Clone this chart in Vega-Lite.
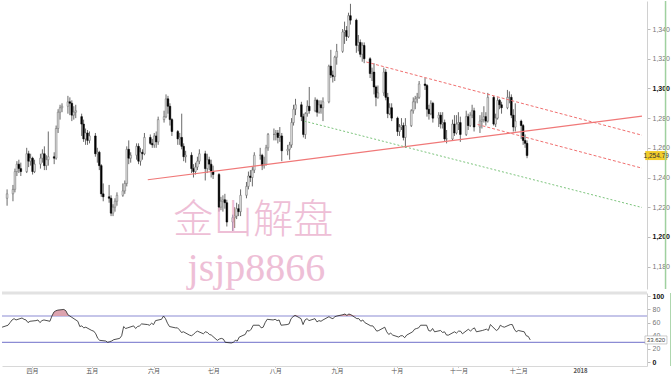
{
  "$schema": "https://vega.github.io/schema/vega-lite/v6.json",
  "padding": 0,
  "background": "white",
  "spacing": 4,
  "bounds": "flush",
  "config": {"view": {"stroke": null}, "font": "Liberation Sans", "axis": {"labelOverlap": false}},
  "datasets": {
    "k": [
      {"d":"2017-03-17","o":1226,"h":1232,"l":1221,"c":1229,"r":53},
      {"d":"2017-03-20","o":1229,"h":1235,"l":1224,"c":1232,"r":56},
      {"d":"2017-03-21","o":1232,"h":1246,"l":1230,"c":1244,"r":60},
      {"d":"2017-03-22","o":1244,"h":1251,"l":1241,"c":1249,"r":64},
      {"d":"2017-03-23","o":1249,"h":1252,"l":1243,"c":1246,"r":66},
      {"d":"2017-03-24","o":1246,"h":1250,"l":1241,"c":1244,"r":64},
      {"d":"2017-03-27","o":1244,"h":1260,"l":1243,"c":1256,"r":67},
      {"d":"2017-03-28","o":1256,"h":1258,"l":1247,"c":1251,"r":65},
      {"d":"2017-03-29","o":1251,"h":1256,"l":1248,"c":1253,"r":64},
      {"d":"2017-03-30","o":1253,"h":1254,"l":1242,"c":1244,"r":60},
      {"d":"2017-03-31","o":1244,"h":1252,"l":1243,"c":1249,"r":62},
      {"d":"2017-04-03","o":1249,"h":1256,"l":1246,"c":1253,"r":63},
      {"d":"2017-04-04","o":1253,"h":1259,"l":1250,"c":1256,"r":64},
      {"d":"2017-04-05","o":1256,"h":1261,"l":1245,"c":1248,"r":60},
      {"d":"2017-04-06","o":1248,"h":1255,"l":1245,"c":1252,"r":63},
      {"d":"2017-04-07","o":1252,"h":1271,"l":1248,"c":1254,"r":64},
      {"d":"2017-04-10","o":1254,"h":1257,"l":1249,"c":1253,"r":62},
      {"d":"2017-04-11","o":1253,"h":1275,"l":1252,"c":1273,"r":70},
      {"d":"2017-04-12","o":1273,"h":1286,"l":1270,"c":1284,"r":76},
      {"d":"2017-04-13","o":1284,"h":1289,"l":1279,"c":1287,"r":78},
      {"d":"2017-04-14","o":1287,"h":1290,"l":1284,"c":1288,"r":79},
      {"d":"2017-04-17","o":1288,"h":1295,"l":1283,"c":1291,"r":80},
      {"d":"2017-04-18","o":1291,"h":1294,"l":1282,"c":1290,"r":78},
      {"d":"2017-04-19","o":1290,"h":1292,"l":1278,"c":1282,"r":72},
      {"d":"2017-04-20","o":1282,"h":1288,"l":1279,"c":1284,"r":70},
      {"d":"2017-04-21","o":1284,"h":1289,"l":1280,"c":1285,"r":68},
      {"d":"2017-04-24","o":1281,"h":1283,"l":1268,"c":1276,"r":62},
      {"d":"2017-04-25","o":1276,"h":1279,"l":1264,"c":1266,"r":54},
      {"d":"2017-04-26","o":1266,"h":1273,"l":1262,"c":1270,"r":55},
      {"d":"2017-04-27","o":1270,"h":1272,"l":1262,"c":1265,"r":52},
      {"d":"2017-04-28","o":1265,"h":1271,"l":1263,"c":1268,"r":53},
      {"d":"2017-05-01","o":1268,"h":1270,"l":1254,"c":1256,"r":48},
      {"d":"2017-05-02","o":1256,"h":1260,"l":1250,"c":1257,"r":47},
      {"d":"2017-05-03","o":1257,"h":1258,"l":1245,"c":1248,"r":43},
      {"d":"2017-05-04","o":1248,"h":1249,"l":1227,"c":1229,"r":36},
      {"d":"2017-05-05","o":1229,"h":1236,"l":1224,"c":1227,"r":33},
      {"d":"2017-05-08","o":1227,"h":1235,"l":1223,"c":1226,"r":32},
      {"d":"2017-05-09","o":1226,"h":1228,"l":1214,"c":1216,"r":30},
      {"d":"2017-05-10","o":1216,"h":1222,"l":1214,"c":1220,"r":31},
      {"d":"2017-05-11","o":1220,"h":1226,"l":1217,"c":1224,"r":32},
      {"d":"2017-05-12","o":1224,"h":1230,"l":1221,"c":1228,"r":34},
      {"d":"2017-05-15","o":1228,"h":1236,"l":1227,"c":1231,"r":36},
      {"d":"2017-05-16","o":1231,"h":1238,"l":1229,"c":1236,"r":40},
      {"d":"2017-05-17","o":1236,"h":1261,"l":1234,"c":1259,"r":54},
      {"d":"2017-05-18","o":1259,"h":1265,"l":1249,"c":1253,"r":51},
      {"d":"2017-05-19","o":1253,"h":1257,"l":1250,"c":1255,"r":52},
      {"d":"2017-05-22","o":1255,"h":1263,"l":1252,"c":1261,"r":55},
      {"d":"2017-05-23","o":1261,"h":1263,"l":1249,"c":1251,"r":51},
      {"d":"2017-05-24","o":1251,"h":1260,"l":1248,"c":1257,"r":54},
      {"d":"2017-05-25","o":1257,"h":1259,"l":1252,"c":1256,"r":55},
      {"d":"2017-05-26","o":1256,"h":1270,"l":1255,"c":1267,"r":58},
      {"d":"2017-05-29","o":1267,"h":1269,"l":1262,"c":1263,"r":57},
      {"d":"2017-05-30","o":1263,"h":1266,"l":1260,"c":1262,"r":56},
      {"d":"2017-05-31","o":1262,"h":1270,"l":1260,"c":1268,"r":59},
      {"d":"2017-06-01","o":1268,"h":1271,"l":1260,"c":1264,"r":57},
      {"d":"2017-06-02","o":1264,"h":1281,"l":1262,"c":1279,"r":63},
      {"d":"2017-06-05","o":1279,"h":1285,"l":1277,"c":1281,"r":65},
      {"d":"2017-06-06","o":1281,"h":1296,"l":1280,"c":1293,"r":70},
      {"d":"2017-06-07","o":1293,"h":1295,"l":1283,"c":1288,"r":66},
      {"d":"2017-06-08","o":1288,"h":1290,"l":1275,"c":1279,"r":59},
      {"d":"2017-06-09","o":1279,"h":1280,"l":1268,"c":1271,"r":54},
      {"d":"2017-06-12","o":1271,"h":1272,"l":1262,"c":1266,"r":52},
      {"d":"2017-06-13","o":1266,"h":1270,"l":1262,"c":1267,"r":52},
      {"d":"2017-06-14","o":1267,"h":1283,"l":1259,"c":1261,"r":49},
      {"d":"2017-06-15","o":1261,"h":1263,"l":1251,"c":1254,"r":45},
      {"d":"2017-06-16","o":1254,"h":1258,"l":1250,"c":1255,"r":46},
      {"d":"2017-06-19","o":1255,"h":1257,"l":1243,"c":1246,"r":41},
      {"d":"2017-06-20","o":1246,"h":1249,"l":1240,"c":1244,"r":40},
      {"d":"2017-06-21","o":1244,"h":1250,"l":1242,"c":1247,"r":42},
      {"d":"2017-06-22","o":1247,"h":1254,"l":1245,"c":1251,"r":45},
      {"d":"2017-06-23","o":1251,"h":1259,"l":1249,"c":1256,"r":47},
      {"d":"2017-06-26","o":1256,"h":1258,"l":1238,"c":1246,"r":43},
      {"d":"2017-06-27","o":1246,"h":1256,"l":1243,"c":1252,"r":46},
      {"d":"2017-06-28","o":1252,"h":1254,"l":1245,"c":1249,"r":45},
      {"d":"2017-06-29","o":1249,"h":1252,"l":1240,"c":1244,"r":42},
      {"d":"2017-06-30","o":1244,"h":1248,"l":1239,"c":1242,"r":41},
      {"d":"2017-07-03","o":1242,"h":1243,"l":1217,"c":1220,"r":33},
      {"d":"2017-07-04","o":1220,"h":1227,"l":1218,"c":1224,"r":35},
      {"d":"2017-07-05","o":1224,"h":1228,"l":1217,"c":1225,"r":36},
      {"d":"2017-07-06","o":1225,"h":1229,"l":1219,"c":1223,"r":35},
      {"d":"2017-07-07","o":1223,"h":1225,"l":1207,"c":1210,"r":30},
      {"d":"2017-07-10","o":1210,"h":1215,"l":1204,"c":1213,"r":29},
      {"d":"2017-07-11","o":1213,"h":1220,"l":1206,"c":1214,"r":30},
      {"d":"2017-07-12","o":1214,"h":1223,"l":1212,"c":1219,"r":33},
      {"d":"2017-07-13","o":1219,"h":1222,"l":1214,"c":1217,"r":32},
      {"d":"2017-07-14","o":1217,"h":1232,"l":1214,"c":1228,"r":38},
      {"d":"2017-07-17","o":1228,"h":1237,"l":1226,"c":1234,"r":42},
      {"d":"2017-07-18","o":1234,"h":1244,"l":1232,"c":1241,"r":48},
      {"d":"2017-07-19","o":1241,"h":1245,"l":1237,"c":1240,"r":47},
      {"d":"2017-07-20","o":1240,"h":1247,"l":1234,"c":1245,"r":50},
      {"d":"2017-07-21","o":1245,"h":1257,"l":1243,"c":1255,"r":56},
      {"d":"2017-07-24","o":1255,"h":1260,"l":1252,"c":1255,"r":56},
      {"d":"2017-07-25","o":1255,"h":1256,"l":1245,"c":1248,"r":52},
      {"d":"2017-07-26","o":1248,"h":1254,"l":1246,"c":1249,"r":53},
      {"d":"2017-07-27","o":1249,"h":1262,"l":1248,"c":1260,"r":60},
      {"d":"2017-07-28","o":1260,"h":1270,"l":1258,"c":1269,"r":65},
      {"d":"2017-07-31","o":1269,"h":1273,"l":1265,"c":1269,"r":64},
      {"d":"2017-08-01","o":1269,"h":1272,"l":1265,"c":1270,"r":65},
      {"d":"2017-08-02","o":1270,"h":1272,"l":1263,"c":1267,"r":63},
      {"d":"2017-08-03","o":1267,"h":1274,"l":1264,"c":1268,"r":64},
      {"d":"2017-08-04","o":1268,"h":1270,"l":1251,"c":1258,"r":56},
      {"d":"2017-08-07","o":1258,"h":1262,"l":1255,"c":1259,"r":57},
      {"d":"2017-08-08","o":1259,"h":1264,"l":1252,"c":1262,"r":58},
      {"d":"2017-08-09","o":1262,"h":1280,"l":1260,"c":1277,"r":66},
      {"d":"2017-08-10","o":1277,"h":1289,"l":1275,"c":1286,"r":69},
      {"d":"2017-08-11","o":1286,"h":1293,"l":1282,"c":1289,"r":71},
      {"d":"2017-08-14","o":1289,"h":1291,"l":1278,"c":1281,"r":66},
      {"d":"2017-08-15","o":1281,"h":1283,"l":1267,"c":1269,"r":57},
      {"d":"2017-08-16","o":1269,"h":1284,"l":1266,"c":1283,"r":64},
      {"d":"2017-08-17","o":1283,"h":1292,"l":1281,"c":1288,"r":66},
      {"d":"2017-08-18","o":1288,"h":1301,"l":1283,"c":1285,"r":63},
      {"d":"2017-08-21","o":1285,"h":1294,"l":1284,"c":1292,"r":66},
      {"d":"2017-08-22","o":1292,"h":1293,"l":1281,"c":1284,"r":61},
      {"d":"2017-08-23","o":1284,"h":1292,"l":1283,"c":1289,"r":63},
      {"d":"2017-08-24","o":1289,"h":1292,"l":1283,"c":1287,"r":62},
      {"d":"2017-08-25","o":1287,"h":1294,"l":1278,"c":1291,"r":64},
      {"d":"2017-08-28","o":1291,"h":1316,"l":1290,"c":1315,"r":69},
      {"d":"2017-08-29","o":1315,"h":1326,"l":1307,"c":1309,"r":67},
      {"d":"2017-08-30","o":1309,"h":1312,"l":1304,"c":1308,"r":66},
      {"d":"2017-08-31","o":1308,"h":1322,"l":1305,"c":1321,"r":69},
      {"d":"2017-09-01","o":1321,"h":1330,"l":1316,"c":1325,"r":70},
      {"d":"2017-09-04","o":1325,"h":1340,"l":1324,"c":1338,"r":72},
      {"d":"2017-09-05","o":1338,"h":1345,"l":1330,"c":1339,"r":73},
      {"d":"2017-09-06","o":1339,"h":1342,"l":1332,"c":1335,"r":71},
      {"d":"2017-09-07","o":1335,"h":1351,"l":1334,"c":1349,"r":73},
      {"d":"2017-09-08","o":1349,"h":1357,"l":1343,"c":1346,"r":72},
      {"d":"2017-09-11","o":1346,"h":1347,"l":1324,"c":1329,"r":66},
      {"d":"2017-09-12","o":1329,"h":1336,"l":1325,"c":1331,"r":66},
      {"d":"2017-09-13","o":1331,"h":1333,"l":1321,"c":1323,"r":62},
      {"d":"2017-09-14","o":1323,"h":1331,"l":1318,"c":1329,"r":64},
      {"d":"2017-09-15","o":1329,"h":1331,"l":1317,"c":1320,"r":60},
      {"d":"2017-09-18","o":1320,"h":1321,"l":1307,"c":1310,"r":55},
      {"d":"2017-09-19","o":1310,"h":1314,"l":1305,"c":1311,"r":55},
      {"d":"2017-09-20","o":1311,"h":1317,"l":1296,"c":1301,"r":51},
      {"d":"2017-09-21","o":1301,"h":1302,"l":1288,"c":1294,"r":47},
      {"d":"2017-09-22","o":1294,"h":1302,"l":1293,"c":1297,"r":48},
      {"d":"2017-09-25","o":1297,"h":1314,"l":1295,"c":1311,"r":53},
      {"d":"2017-09-26","o":1311,"h":1313,"l":1292,"c":1294,"r":46},
      {"d":"2017-09-27","o":1294,"h":1297,"l":1280,"c":1283,"r":42},
      {"d":"2017-09-28","o":1283,"h":1290,"l":1282,"c":1287,"r":44},
      {"d":"2017-09-29","o":1287,"h":1290,"l":1278,"c":1280,"r":41},
      {"d":"2017-10-02","o":1280,"h":1281,"l":1268,"c":1271,"r":38},
      {"d":"2017-10-03","o":1271,"h":1276,"l":1268,"c":1274,"r":40},
      {"d":"2017-10-04","o":1274,"h":1280,"l":1272,"c":1275,"r":40},
      {"d":"2017-10-05","o":1275,"h":1277,"l":1265,"c":1267,"r":37},
      {"d":"2017-10-06","o":1267,"h":1280,"l":1260,"c":1275,"r":41},
      {"d":"2017-10-09","o":1275,"h":1286,"l":1274,"c":1285,"r":46},
      {"d":"2017-10-10","o":1285,"h":1294,"l":1283,"c":1291,"r":50},
      {"d":"2017-10-11","o":1291,"h":1295,"l":1286,"c":1293,"r":51},
      {"d":"2017-10-12","o":1293,"h":1297,"l":1290,"c":1294,"r":52},
      {"d":"2017-10-13","o":1294,"h":1305,"l":1293,"c":1303,"r":56},
      {"d":"2017-10-16","o":1303,"h":1307,"l":1299,"c":1302,"r":56},
      {"d":"2017-10-17","o":1302,"h":1303,"l":1281,"c":1286,"r":48},
      {"d":"2017-10-18","o":1286,"h":1289,"l":1279,"c":1283,"r":47},
      {"d":"2017-10-19","o":1283,"h":1292,"l":1282,"c":1290,"r":51},
      {"d":"2017-10-20","o":1290,"h":1291,"l":1277,"c":1280,"r":46},
      {"d":"2017-10-23","o":1280,"h":1284,"l":1274,"c":1282,"r":48},
      {"d":"2017-10-24","o":1282,"h":1284,"l":1273,"c":1276,"r":45},
      {"d":"2017-10-25","o":1276,"h":1284,"l":1273,"c":1277,"r":46},
      {"d":"2017-10-26","o":1277,"h":1279,"l":1264,"c":1266,"r":41},
      {"d":"2017-10-27","o":1266,"h":1272,"l":1263,"c":1266,"r":41},
      {"d":"2017-10-30","o":1266,"h":1279,"l":1265,"c":1276,"r":46},
      {"d":"2017-10-31","o":1276,"h":1282,"l":1268,"c":1270,"r":44},
      {"d":"2017-11-01","o":1270,"h":1282,"l":1269,"c":1276,"r":47},
      {"d":"2017-11-02","o":1276,"h":1284,"l":1272,"c":1277,"r":47},
      {"d":"2017-11-03","o":1277,"h":1281,"l":1264,"c":1269,"r":43},
      {"d":"2017-11-06","o":1269,"h":1285,"l":1268,"c":1281,"r":50},
      {"d":"2017-11-07","o":1281,"h":1283,"l":1272,"c":1275,"r":47},
      {"d":"2017-11-08","o":1275,"h":1284,"l":1274,"c":1282,"r":50},
      {"d":"2017-11-09","o":1282,"h":1289,"l":1280,"c":1285,"r":52},
      {"d":"2017-11-10","o":1285,"h":1287,"l":1271,"c":1274,"r":46},
      {"d":"2017-11-13","o":1274,"h":1282,"l":1270,"c":1278,"r":48},
      {"d":"2017-11-14","o":1278,"h":1284,"l":1273,"c":1279,"r":49},
      {"d":"2017-11-15","o":1279,"h":1288,"l":1277,"c":1281,"r":50},
      {"d":"2017-11-16","o":1281,"h":1284,"l":1275,"c":1278,"r":48},
      {"d":"2017-11-17","o":1278,"h":1297,"l":1277,"c":1294,"r":57},
      {"d":"2017-11-20","o":1294,"h":1295,"l":1275,"c":1276,"r":48},
      {"d":"2017-11-21","o":1276,"h":1283,"l":1274,"c":1280,"r":50},
      {"d":"2017-11-22","o":1280,"h":1294,"l":1279,"c":1292,"r":56},
      {"d":"2017-11-23","o":1292,"h":1293,"l":1286,"c":1289,"r":54},
      {"d":"2017-11-24","o":1289,"h":1291,"l":1283,"c":1287,"r":53},
      {"d":"2017-11-27","o":1287,"h":1299,"l":1286,"c":1294,"r":57},
      {"d":"2017-11-28","o":1294,"h":1298,"l":1290,"c":1294,"r":57},
      {"d":"2017-11-29","o":1294,"h":1296,"l":1280,"c":1282,"r":50},
      {"d":"2017-11-30","o":1282,"h":1286,"l":1271,"c":1274,"r":46},
      {"d":"2017-12-01","o":1274,"h":1290,"l":1271,"c":1278,"r":48},
      {"d":"2017-12-04","o":1278,"h":1279,"l":1266,"c":1275,"r":46},
      {"d":"2017-12-05","o":1275,"h":1276,"l":1262,"c":1265,"r":40},
      {"d":"2017-12-06","o":1265,"h":1269,"l":1260,"c":1263,"r":39},
      {"d":"2017-12-07","o":1263,"h":1265,"l":1253,"c":1254.79,"r":33.62}
    ],
    "tl": [
      {"id":"sup","d":"2017-05-27T17:00:00Z","p":1238.5},
      {"id":"sup","d":"2018-02-03T14:00:00Z","p":1281.3},
      {"id":"up","d":"2017-09-16T02:00:00Z","p":1317.8},
      {"id":"up","d":"2018-02-03T14:00:00Z","p":1268.5},
      {"id":"lo","d":"2017-11-11T19:00:00Z","p":1275.7},
      {"id":"lo","d":"2018-02-03T14:00:00Z","p":1246.3},
      {"id":"gr","d":"2017-08-15T12:00:00Z","p":1278.0},
      {"id":"gr","d":"2018-02-03T14:00:00Z","p":1219.8}
    ],
    "wm1": [{"t":"金山解盘","d":"2017-07-20T10:00:00Z","p":1210.7}],
    "wm2": [{"t":"jsjp8866","d":"2017-07-22T02:00:00Z","p":1178.5}],
    "last": [{"d":"2018-02-10T20:00:00Z","d2":"2018-02-08T02:00:00Z","p":1254.79,"r":33.62,"tp":"1,254.79","tr":"33.620"}],
    "edge": [{"d":"2018-02-15T14:00:00Z"}],
    "yt": [{"v":1180},{"v":1200},{"v":1220},{"v":1240},{"v":1260},{"v":1280},{"v":1300},{"v":1320},{"v":1340}]
  },
  "vconcat": [
    {
      "width": 645,
      "height": 288,
      "resolve": {"axis": {"y": "independent"}},
      "layer": [
        {
          "data": {"name": "k"},
          "mark": {"type": "rule", "color": "#444", "strokeWidth": 0.8},
          "encoding": {
            "x": {"field": "d", "type": "temporal", "axis": null,
                  "scale": {"type": "utc", "domain": [{"year":2017,"month":3,"date":16,"hours":23,"utc":true},{"year":2018,"month":2,"date":3,"hours":14,"utc":true}]}},
            "y": {"field": "l", "type": "quantitative",
                  "scale": {"domain": [1164.9, 1358.9], "nice": false, "zero": false},
                  "axis": {"orient": "right", "title": null, "grid": false, "labelOverlap": false, "labelSeparation": 0,
                           "values": [1180,1200,1220,1240,1260,1280,1300,1320,1340],
                           "format": ",.0f", "domainColor": "#d0d0d0", "tickColor": "#bbb", "tickSize": 3,
                           "labelFontSize": 7, "labelPadding": 2, "labelFont": "Liberation Sans",
                           "labelColor": {"condition": {"test": "datum.value % 100 == 0", "value": "#111"}, "value": "#777"},
                           "labelFontWeight": {"condition": {"test": "datum.value % 100 == 0", "value": "bold"}, "value": "normal"}}},
            "y2": {"field": "h"}
          }
        },
        {
          "data": {"name": "k"},
          "mark": {"type": "bar", "width": 1.7, "strokeWidth": 0.5},
          "encoding": {
            "x": {"field": "d", "type": "temporal", "axis": null,
                  "scale": {"type": "utc", "domain": [{"year":2017,"month":3,"date":16,"hours":23,"utc":true},{"year":2018,"month":2,"date":3,"hours":14,"utc":true}]}},
            "y": {"field": "o", "type": "quantitative", "axis": null, "scale": {"domain": [1164.9, 1358.9], "nice": false, "zero": false}},
            "y2": {"field": "c"},
            "fill": {"condition": {"test": "datum.c >= datum.o", "value": "#e6e6e6"}, "value": "#000"},
            "stroke": {"condition": {"test": "datum.c >= datum.o", "value": "#666"}, "value": "#000"}
          }
        },
        {
          "data": {"name": "tl"},
          "transform": [{"filter": "datum.id == 'sup'"}],
          "mark": {"type": "line", "color": "#f07878", "strokeWidth": 1.2},
          "encoding": {
            "x": {"field": "d", "type": "temporal", "axis": null,
                  "scale": {"type": "utc", "domain": [{"year":2017,"month":3,"date":16,"hours":23,"utc":true},{"year":2018,"month":2,"date":3,"hours":14,"utc":true}]}},
            "y": {"field": "p", "type": "quantitative", "axis": null, "scale": {"domain": [1164.9, 1358.9], "nice": false, "zero": false}}
          }
        },
        {
          "data": {"name": "tl"},
          "transform": [{"filter": "datum.id == 'up' || datum.id == 'lo'"}],
          "mark": {"type": "line", "color": "#f07070", "strokeWidth": 1, "strokeDash": [3, 2]},
          "encoding": {
            "x": {"field": "d", "type": "temporal", "axis": null,
                  "scale": {"type": "utc", "domain": [{"year":2017,"month":3,"date":16,"hours":23,"utc":true},{"year":2018,"month":2,"date":3,"hours":14,"utc":true}]}},
            "y": {"field": "p", "type": "quantitative", "axis": null, "scale": {"domain": [1164.9, 1358.9], "nice": false, "zero": false}},
            "detail": {"field": "id"}
          }
        },
        {
          "data": {"name": "tl"},
          "transform": [{"filter": "datum.id == 'gr'"}],
          "mark": {"type": "line", "color": "#7cc47c", "strokeWidth": 1, "strokeDash": [2, 2]},
          "encoding": {
            "x": {"field": "d", "type": "temporal", "axis": null,
                  "scale": {"type": "utc", "domain": [{"year":2017,"month":3,"date":16,"hours":23,"utc":true},{"year":2018,"month":2,"date":3,"hours":14,"utc":true}]}},
            "y": {"field": "p", "type": "quantitative", "axis": null, "scale": {"domain": [1164.9, 1358.9], "nice": false, "zero": false}}
          }
        },
        {
          "data": {"name": "wm1"},
          "mark": {"type": "text", "font": "Noto Sans CJK SC", "fontSize": 40, "fontWeight": 300, "color": "#e8a4c6", "opacity": 0.7, "align": "center", "baseline": "middle"},
          "encoding": {
            "x": {"field": "d", "type": "temporal", "axis": null,
                  "scale": {"type": "utc", "domain": [{"year":2017,"month":3,"date":16,"hours":23,"utc":true},{"year":2018,"month":2,"date":3,"hours":14,"utc":true}]}},
            "y": {"field": "p", "type": "quantitative", "axis": null, "scale": {"domain": [1164.9, 1358.9], "nice": false, "zero": false}},
            "text": {"field": "t"}
          }
        },
        {
          "data": {"name": "wm2"},
          "mark": {"type": "text", "font": "Liberation Serif", "fontSize": 40, "color": "#e8a4c6", "opacity": 0.7, "align": "center", "baseline": "middle"},
          "encoding": {
            "x": {"field": "d", "type": "temporal", "axis": null,
                  "scale": {"type": "utc", "domain": [{"year":2017,"month":3,"date":16,"hours":23,"utc":true},{"year":2018,"month":2,"date":3,"hours":14,"utc":true}]}},
            "y": {"field": "p", "type": "quantitative", "axis": null, "scale": {"domain": [1164.9, 1358.9], "nice": false, "zero": false}},
            "text": {"field": "t"}
          }
        },
        {
          "data": {"name": "last"},
          "mark": {"type": "rect", "width": 22, "height": 9, "fill": "#f2cc2a"},
          "encoding": {
            "x": {"field": "d", "type": "temporal", "axis": null,
                  "scale": {"type": "utc", "domain": [{"year":2017,"month":3,"date":16,"hours":23,"utc":true},{"year":2018,"month":2,"date":3,"hours":14,"utc":true}]}},
            "y": {"field": "p", "type": "quantitative", "axis": null, "scale": {"domain": [1164.9, 1358.9], "nice": false, "zero": false}}
          }
        },
        {
          "data": {"name": "last"},
          "mark": {"type": "text", "fontSize": 6.5, "color": "#333", "align": "center", "baseline": "middle"},
          "encoding": {
            "x": {"field": "d", "type": "temporal", "axis": null,
                  "scale": {"type": "utc", "domain": [{"year":2017,"month":3,"date":16,"hours":23,"utc":true},{"year":2018,"month":2,"date":3,"hours":14,"utc":true}]}},
            "y": {"field": "p", "type": "quantitative", "axis": null, "scale": {"domain": [1164.9, 1358.9], "nice": false, "zero": false}},
            "text": {"field": "tp"}
          }
        },
        {
          "data": {"name": "edge"},
          "mark": {"type": "rule", "color": "#9fd09f", "strokeWidth": 1.5},
          "encoding": {
            "x": {"field": "d", "type": "temporal", "axis": null,
                  "scale": {"type": "utc", "domain": [{"year":2017,"month":3,"date":16,"hours":23,"utc":true},{"year":2018,"month":2,"date":3,"hours":14,"utc":true}]}}
          }
        }
      ]
    },
    {
      "width": 645,
      "height": 73,
      "resolve": {"scale": {"y": "independent"}},
      "layer": [
        {
          "data": {"values": [{}]},
          "mark": {"type": "rule", "color": "#e2e2e2", "strokeWidth": 3},
          "encoding": {"y": {"datum": 105, "type": "quantitative", "scale": {"domain": [-6, 105], "nice": false, "zero": false}, "axis": null}}
        },
        {
          "data": {"values": [{}]},
          "mark": {"type": "rule", "color": "#8c8cd4", "strokeWidth": 1.2},
          "encoding": {"y": {"datum": 70, "type": "quantitative", "scale": {"domain": [-6, 105], "nice": false, "zero": false}, "axis": null}}
        },
        {
          "data": {"values": [{}]},
          "mark": {"type": "rule", "color": "#8c8cd4", "strokeWidth": 1.2},
          "encoding": {"y": {"datum": 30, "type": "quantitative", "scale": {"domain": [-6, 105], "nice": false, "zero": false}, "axis": null}}
        },
        {
          "data": {"name": "k"},
          "mark": {"type": "area", "color": "#d99aa6", "opacity": 0.9},
          "encoding": {
            "x": {"field": "d", "type": "temporal",
                  "scale": {"type": "utc", "domain": [{"year":2017,"month":3,"date":16,"hours":23,"utc":true},{"year":2018,"month":2,"date":3,"hours":14,"utc":true}]}},
            "y": {"field": "r", "type": "quantitative", "axis": null,
                  "scale": {"domain": [70, 105], "range": [23.02, 0], "clamp": true, "nice": false, "zero": false}},
            "y2": {"datum": 70}
          }
        },
        {
          "data": {"name": "k"},
          "mark": {"type": "line", "color": "#222", "strokeWidth": 0.8},
          "encoding": {
            "x": {"field": "d", "type": "temporal",
                  "scale": {"type": "utc", "domain": [{"year":2017,"month":3,"date":16,"hours":23,"utc":true},{"year":2018,"month":2,"date":3,"hours":14,"utc":true}]},
                  "axis": {"title": null, "grid": false, "labelOverlap": false, "labelFlush": false,
                           "values": [{"year":2017,"month":4,"date":1,"utc":true},{"year":2017,"month":5,"date":1,"utc":true},{"year":2017,"month":6,"date":1,"utc":true},{"year":2017,"month":7,"date":1,"utc":true},{"year":2017,"month":8,"date":1,"utc":true},{"year":2017,"month":9,"date":1,"utc":true},{"year":2017,"month":10,"date":1,"utc":true},{"year":2017,"month":11,"date":1,"utc":true},{"year":2017,"month":12,"date":1,"utc":true},{"year":2018,"month":1,"date":1,"utc":true}],
                           "labelExpr": "utcmonth(datum.value) == 0 ? '' + utcyear(datum.value) : ['一月','二月','三月','四月','五月','六月','七月','八月','九月','十月','十一月','十二月'][utcmonth(datum.value)]",
                           "labelFont": "Noto Sans CJK SC", "labelFontSize": 6, "labelColor": "#555", "labelPadding": 0,
                           "labelFontWeight": {"condition": {"test": "utcmonth(datum.value) == 0", "value": "bold"}, "value": "normal"},
                           "domainColor": "#d8d8d8", "tickColor": "#ccc", "tickSize": 1.5}},
            "y": {"field": "r", "type": "quantitative",
                  "scale": {"domain": [-6, 105], "nice": false, "zero": false},
                  "axis": {"orient": "right", "title": null, "grid": false, "labelOverlap": false, "values": [0, 20, 40, 60, 80, 100],
                           "domainColor": "#d0d0d0", "tickColor": "#bbb", "tickSize": 3, "labelFontSize": 7, "labelPadding": 2,
                           "labelColor": {"condition": {"test": "datum.value == 0 || datum.value == 100", "value": "#111"}, "value": "#777"},
                           "labelFontWeight": {"condition": {"test": "datum.value == 0 || datum.value == 100", "value": "bold"}, "value": "normal"}}}
          }
        },
        {
          "data": {"name": "last"},
          "mark": {"type": "rect", "width": 22, "height": 8, "fill": "white", "stroke": "#aaa", "strokeWidth": 0.6},
          "encoding": {
            "x": {"field": "d2", "type": "temporal",
                  "scale": {"type": "utc", "domain": [{"year":2017,"month":3,"date":16,"hours":23,"utc":true},{"year":2018,"month":2,"date":3,"hours":14,"utc":true}]}},
            "y": {"field": "r", "type": "quantitative", "axis": null, "scale": {"domain": [-6, 105], "nice": false, "zero": false}}
          }
        },
        {
          "data": {"name": "last"},
          "mark": {"type": "text", "fontSize": 6, "color": "#444", "align": "center", "baseline": "middle"},
          "encoding": {
            "x": {"field": "d2", "type": "temporal",
                  "scale": {"type": "utc", "domain": [{"year":2017,"month":3,"date":16,"hours":23,"utc":true},{"year":2018,"month":2,"date":3,"hours":14,"utc":true}]}},
            "y": {"field": "r", "type": "quantitative", "axis": null, "scale": {"domain": [-6, 105], "nice": false, "zero": false}},
            "text": {"field": "tr"}
          }
        },
        {
          "data": {"name": "edge"},
          "mark": {"type": "rule", "color": "#9fd09f", "strokeWidth": 1.5},
          "encoding": {
            "x": {"field": "d", "type": "temporal",
                  "scale": {"type": "utc", "domain": [{"year":2017,"month":3,"date":16,"hours":23,"utc":true},{"year":2018,"month":2,"date":3,"hours":14,"utc":true}]}}
          }
        }
      ]
    }
  ]
}
